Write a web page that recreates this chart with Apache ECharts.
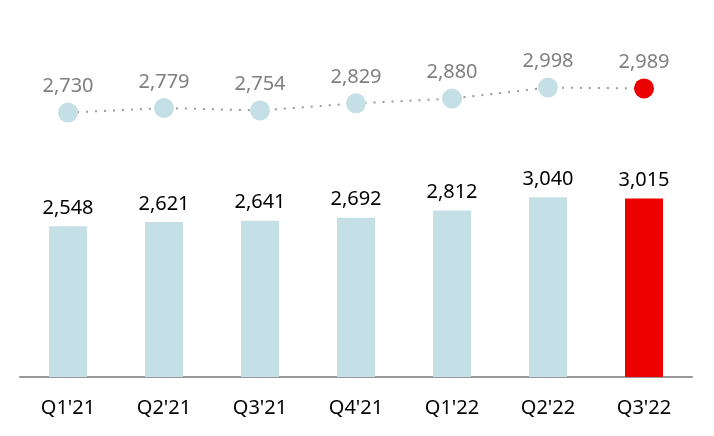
<!DOCTYPE html>
<html>
<head>
<meta charset="utf-8">
<script src="https://cdn.jsdelivr.net/npm/echarts@6/dist/echarts.min.js"></script>
<style>
  html, body { margin: 0; padding: 0; background: #fff; }
  #chart { width: 714px; height: 436px; }
</style>
</head>
<body>
<div id="chart"></div>
<script>
// 数据
const categories = ["Q1'21", "Q2'21", "Q3'21", "Q4'21", "Q1'22", "Q2'22", "Q3'22"]
const barValues = [2548, 2621, 2641, 2692, 2812, 3040, 3015]
const lineValues = [2730, 2779, 2754, 2829, 2880, 2998, 2989]

const BLUE = '#c5dfe7'
const RED = '#ec0000'
const lastIdx = categories.length - 1
const fmt = (v) => v.toLocaleString('en-US')

const chart = echarts.init(document.getElementById('chart'))
chart.setOption({
  animation: false,
  textStyle: { fontFamily: 'Noto Sans, sans-serif' },
  grid: { left: 20, right: 22, top: 22, bottom: 59 },
  xAxis: {
    type: 'category',
    data: categories,
    axisLine: { show: true, lineStyle: { color: '#999', width: 2 } },
    axisTick: { show: false },
    axisLabel: { color: '#000', fontSize: 20, margin: 21 }
  },
  yAxis: [
    { type: 'value', min: 0, max: 6000, show: false },
    { type: 'value', min: -100, max: 3700, show: false }
  ],
  series: [
    {
      type: 'bar',
      yAxisIndex: 0,
      barWidth: 38,
      data: barValues.map((v, i) => ({ value: v, itemStyle: { color: i === lastIdx ? RED : BLUE } })),
      label: {
        show: true,
        position: 'top',
        distance: 8,
        color: '#000',
        fontSize: 20,
        formatter: (p) => fmt(p.value)
      }
    },
    {
      type: 'line',
      yAxisIndex: 1,
      symbol: 'circle',
      symbolSize: 20,
      lineStyle: { color: '#999', width: 2, type: [2, 7] },
      itemStyle: { color: BLUE },
      data: lineValues.map((v, i) => ({ value: v, itemStyle: { color: i === lastIdx ? RED : BLUE } })),
      label: {
        show: true,
        position: 'top',
        distance: 6,
        color: '#808080',
        fontSize: 20,
        formatter: (p) => fmt(p.value)
      }
    }
  ]
})
</script>
</body>
</html>
